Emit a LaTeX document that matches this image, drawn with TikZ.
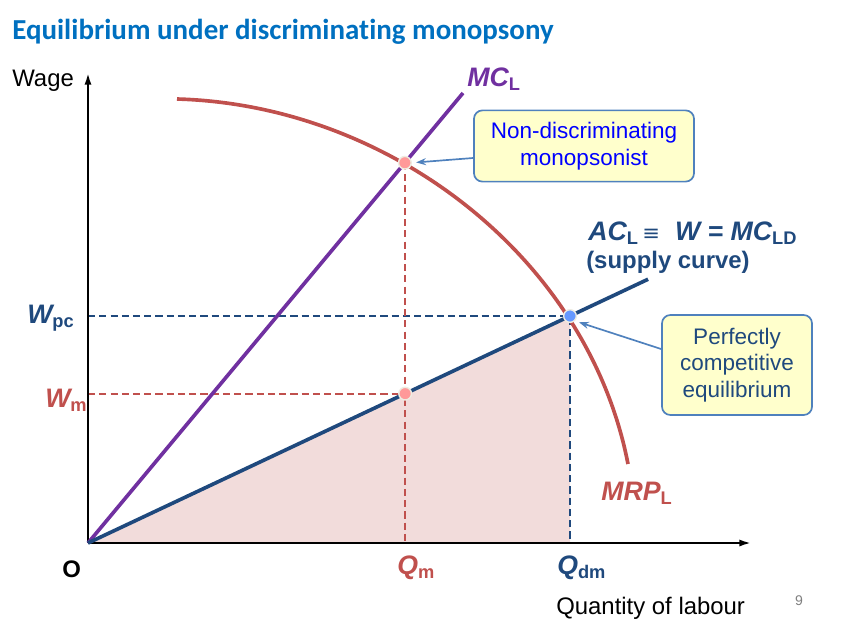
\documentclass[tikz,border=0pt]{standalone}
\usepackage{fontspec}
\setmainfont{Liberation Sans}
\newfontfamily\titlefont[Ligatures=NoCommon]{Carlito}
\newfontfamily\symfont{DejaVu Sans}
\usetikzlibrary{arrows.meta,calc}

\definecolor{titleblue}{RGB}{0,112,192}
\definecolor{mcpurple}{RGB}{112,48,160}
\definecolor{mrpred}{RGB}{192,80,77}
\definecolor{acblue}{RGB}{31,73,125}
\definecolor{shadepink}{RGB}{242,220,219}
\definecolor{notefill}{RGB}{255,255,204}
\definecolor{noteline}{RGB}{79,129,189}
\definecolor{dotpink}{RGB}{255,153,153}
\definecolor{dotblue}{RGB}{102,153,255}
\definecolor{dotrim}{RGB}{238,236,225}

\newcommand{\lsub}[1]{\raisebox{-0.3ex}{\fontsize{13}{13}\selectfont\upshape #1}}

\begin{document}
\begin{tikzpicture}[x=0.025cm, y=-0.025cm,
  axis/.style={line width=1.8pt, -{Latex[length=9pt,width=5pt]}},
  curve/.style={line width=2.6pt},
  guide/.style={line width=1.3pt, dash pattern=on 5pt off 3pt},
  note/.style={draw=noteline, fill=notefill, line width=1.2pt, rounded corners=6pt, align=center, font=\fontsize{16}{19}\selectfont},
  pointer/.style={draw=noteline, line width=1.2pt, -{Stealth[length=7pt,width=5pt]}},
  dot/.style={circle, inner sep=0pt, minimum size=9pt, draw=dotrim, line width=1pt},
  lab/.style={inner sep=0pt, font=\fontsize{19}{22}\selectfont\bfseries\itshape},
  plain/.style={inner sep=0pt, font=\fontsize{17}{20}\selectfont}]
\useasboundingbox (0,0) rectangle (862,627);

% title
\node (title) [inner sep=0pt, anchor=base west, text=titleblue, font=\titlefont\fontsize{20.6}{24}\selectfont\bfseries] at (12,39) {Equilibrium under discriminating monopsony};

% points of the diagram
\coordinate (O) at (88,543);
\coordinate (ytop) at (88,72);
\coordinate (xend) at (752,543);
\coordinate (mcend) at (463,93);
\coordinate (pc) at (570,316);
\coordinate (acend) at ($(O)!1.162!(pc)$);
\coordinate (nd) at ($(O)!0.845!(mcend)$);
\coordinate (m) at ($(O)!0.658!(pc)$);

% shaded area and guide lines
\fill[shadepink] (O) -- (pc) -- (pc |- O) -- cycle;
\draw[guide, acblue] (O |- pc) -- (pc) -- (pc |- O);
\draw[guide, mrpred] (O |- m) -- (m);
\draw[guide, mrpred] (nd) -- (nd |- O);

% axes
\draw[axis] (O) -- (ytop);
\draw[axis] (O) -- (xend);

% curves
\draw[curve, mcpurple] (O) -- (mcend);
\draw[curve, acblue] (O) -- (acend);
\draw[curve, mrpred] (177,99) .. controls (390,105) and (588,258) .. (628,464);

% equilibrium points
\node (nddot) [dot, fill=dotpink] at (nd) {};
\node (mdot) [dot, fill=dotpink] at (m) {};
\node (pcdot) [dot, fill=dotblue] at (pc) {};

% callouts
\node (ndnote) [note, text=blue, minimum width=5.5cm, minimum height=1.78cm] at (584,146) {Non-discriminating\\monopsonist};
\node (pcnote) [note, text=acblue, minimum width=3.75cm, minimum height=2.5cm] at (737,365) {Perfectly\\competitive\\equilibrium};
\draw[pointer, shorten >=3pt] ($(ndnote.west)+(0,12)$) -- (nddot.east);
\draw[pointer, shorten >=3pt] ($(pcnote.west)+(0,-16)$) -- (pcdot.south east);

% labels
\node (wage) [plain, anchor=base west] at (12,86) {Wage};
\node (qty) [plain, anchor=base west] at (556,614) {Quantity of labour};
\node (page) [text=gray, font=\fontsize{10}{12}\selectfont] at (799,601) {9};
\node (olab) [inner sep=0pt, anchor=base west, font=\fontsize{17}{20}\selectfont\bfseries] at (62,577) {O};
\node (mclab) [lab, text=mcpurple, anchor=base west] at (467,86) {MC\lsub{L}};
\node (aclab) [lab, text=acblue, anchor=base west] at (588,240) {AC\lsub{L}\,{\symfont\mdseries\upshape\fontsize{15}{15}\selectfont ≡}\ \ W = MC\lsub{LD}};
\node (supply) [inner sep=0pt, text=acblue, anchor=base west, font=\fontsize{17}{20}\selectfont\bfseries] at (586,268) {(supply curve)};
\node (mrplab) [lab, text=mrpred, anchor=base west] at (601,500) {MRP\lsub{L}};
\node (wpclab) [lab, text=acblue, anchor=base west] at (27,323) {W\lsub{pc}};
\node (wmlab) [lab, text=mrpred, anchor=base west] at (45,407) {W\lsub{m}};
\node (qmlab) [lab, text=mrpred, anchor=base west] at (397,574) {Q\lsub{m}};
\node (qdmlab) [lab, text=acblue, anchor=base west] at (557,574) {Q\lsub{dm}};
\end{tikzpicture}
\end{document}
